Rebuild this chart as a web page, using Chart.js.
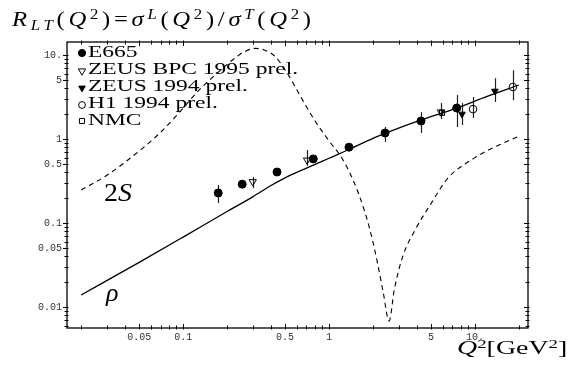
<!DOCTYPE html>
<html><head><meta charset="utf-8">
<script src="https://cdn.jsdelivr.net/npm/chart.js@4.4.1/dist/chart.umd.min.js"></script>
<style>
html,body{margin:0;padding:0;background:#fff;}
#wrap{position:relative;width:570px;height:369px;overflow:hidden;background:#fff;}
canvas{position:absolute;left:0;top:0;}
.t{position:absolute;white-space:nowrap;font-family:"Liberation Serif","Times New Roman",serif;color:#000;line-height:1;transform-origin:0 0;font-weight:normal;}
.t sub,.t sup{font-size:68%;line-height:0;position:relative;vertical-align:baseline;}
.t sup{top:-0.5em;} .t sub{top:0.28em;}
.leg{font-size:17px;}
</style></head>
<body><div id="wrap"><canvas id="c" width="570" height="369"></canvas>
<div class="t" id="title" style="left:12px;top:8px;font-size:22px"><i>R</i><sub><i>LT</i></sub>(<i>Q</i><sup>2</sup>)=<i>σ</i><sup><i>L</i></sup>(<i>Q</i><sup>2</sup>)/<i>σ</i><sup><i>T</i></sup>(<i>Q</i><sup>2</sup>)</div>
<div class="t leg" id="l0" style="left:88px;top:43px">E665</div>
<div class="t leg" id="l1" style="left:88px;top:60px">ZEUS BPC 1995 prel.</div>
<div class="t leg" id="l2" style="left:88px;top:77px">ZEUS 1994 prel.</div>
<div class="t leg" id="l3" style="left:88px;top:94px">H1 1994 prel.</div>
<div class="t leg" id="l4" style="left:88px;top:111px">NMC</div>
<div class="t" id="xl" style="left:457px;top:338px;font-size:19px"><i>Q</i><sup>2</sup>[GeV<sup>2</sup>]</div>
<div class="t" id="s2" style="left:104px;top:180px;font-size:25px">2<i>S</i></div>
<div class="t" id="rho" style="left:106px;top:280px;font-size:26px"><i>ρ</i></div>
</div>
<script>
// ---- data ----
const xTickVals = [0.05, 0.1, 0.5, 1, 5, 10];
const xTickLabels = ['0.05', '0.1', '0.5', '1', '5', '10.'];
const yTickVals = [0.01, 0.05, 0.1, 0.5, 1, 5, 10];
const yTickLabels = ['0.01', '0.05', '0.1', '0.5', '1', '5', '10.'];

const rhoQ2 = [0.02, 0.05, 0.1, 0.2, 0.3, 0.4, 0.5, 0.6, 0.78, 1.0, 1.37, 2.0, 3.0, 4.27, 7.5, 12, 20];
const rhoR  = [0.0139, 0.034, 0.068, 0.137, 0.205, 0.28, 0.345, 0.40, 0.49, 0.59, 0.75, 1.02, 1.35, 1.68, 2.34, 3.2, 4.4];

const s2Q2 = [0.02, 0.03, 0.05, 0.07, 0.09, 0.13, 0.17, 0.21, 0.26, 0.31, 0.36, 0.43, 0.52, 0.63, 0.8, 1.0, 1.25, 1.6, 1.9, 2.13, 2.35, 2.58, 2.8, 3.2, 3.88, 5, 6.5, 10, 14, 20];
const s2R  = [0.247, 0.37, 0.72, 1.2, 1.9, 3.9, 6.0, 8.3, 10.8, 12.0, 11.5, 9.5, 6.0, 3.34, 1.65, 0.95, 0.56, 0.22, 0.085, 0.036, 0.015, 0.0068, 0.016, 0.04, 0.082, 0.17, 0.34, 0.6, 0.82, 1.08];

const e665Q2 = [0.174, 0.254, 0.44, 0.78, 1.37, 2.42, 4.27, 7.5];
const e665R  = [0.228, 0.29, 0.405, 0.58, 0.80, 1.18, 1.64, 2.34];
const e665Lo = [0.173, 0.27, 0.385, 0.555, 0.74, 0.92, 1.18, 1.39];
const e665Hi = [0.284, 0.31, 0.425, 0.605, 0.87, 1.39, 2.09, 3.34];

const bpcQ2 = [0.30, 0.707, 5.85];
const bpcR  = [0.31, 0.56, 2.1];
const bpcLo = [0.26, 0.48, 1.73];
const bpcHi = [0.353, 0.74, 2.68];

const z94Q2 = [8.15, 13.7];
const z94R  = [1.98, 3.72];
const z94Lo = [1.47, 2.76];
const z94Hi = [2.68, 5.3];

const h1Q2 = [9.7, 18.2];
const h1R  = [2.27, 4.16];
const h1Lo = [1.78, 2.9];
const h1Hi = [3.16, 6.6];

const nmcQ2 = [5.95];
const nmcR  = [2.05];
const nmcLo = [1.93];
const nmcHi = [2.18];

const pts = (xs, ys) => xs.map((v, i) => ({x: v, y: ys[i]}));
const errs = [
  [e665Q2, e665Lo, e665Hi], [bpcQ2, bpcLo, bpcHi], [z94Q2, z94Lo, z94Hi],
  [h1Q2, h1Lo, h1Hi], [nmcQ2, nmcLo, nmcHi]
];

const errPlugin = {
  id: 'errbars',
  beforeDatasetsDraw(chart) {
    const {ctx, scales: {x, y}} = chart;
    ctx.save();
    ctx.strokeStyle = '#222';
    ctx.lineWidth = 1.2;
    errs.forEach(([xs, lo, hi]) => {
      xs.forEach((q, i) => {
        const px = Math.round(x.getPixelForValue(q)) + 0.5;
        ctx.beginPath();
        ctx.moveTo(px, y.getPixelForValue(lo[i]));
        ctx.lineTo(px, y.getPixelForValue(hi[i]));
        ctx.stroke();
      });
    });
    ctx.restore();
  }
};

function tickSet(min, max) {
  const out = [];
  for (let d = -3; d <= 2; d++) for (let m = 1; m <= 9; m++) {
    const v = m * Math.pow(10, d);
    if (v >= min && v <= max) out.push(+v.toPrecision(3));
  }
  return out;
}

const framePlugin = {
  id: 'frame',
  afterDraw(chart) {
    const {ctx, chartArea: a, scales: {x, y}} = chart;
    ctx.save();
    ctx.strokeStyle = '#000';
    ctx.lineWidth = 1.3;
    ctx.strokeRect(a.left, a.top, a.right - a.left, a.bottom - a.top);
    ctx.lineWidth = 1;
    const isMaj = (v, list) => list.some(t => Math.abs(t - v) / t < 1e-6);
    tickSet(x.min, x.max).forEach(v => {
      const px = Math.round(x.getPixelForValue(v)) + 0.5;
      const L = isMaj(v, xTickVals) ? 4 : 2.5;
      ctx.beginPath();
      ctx.moveTo(px, a.bottom + 1.5); ctx.lineTo(px, a.bottom - L);
      ctx.moveTo(px, a.top - 1.5); ctx.lineTo(px, a.top + L);
      ctx.stroke();
    });
    tickSet(y.min, y.max).forEach(v => {
      const py = Math.round(y.getPixelForValue(v)) + 0.5;
      const L = isMaj(v, yTickVals) ? 4 : 2.5;
      ctx.beginPath();
      ctx.moveTo(a.left - L, py); ctx.lineTo(a.left + 1.5, py);
      ctx.moveTo(a.right + 1.5, py); ctx.lineTo(a.right - L, py);
      ctx.stroke();
    });
    // legend symbols
    const H = Chart.helpers;
    const sym = [
      {pointStyle: 'circle', radius: 3.6, rotation: 0, fill: true, y: 53},
      {pointStyle: 'triangle', radius: 4.2, rotation: 180, fill: false, y: 71},
      {pointStyle: 'triangle', radius: 3.8, rotation: 180, fill: true, y: 88},
      {pointStyle: 'circle', radius: 3.4, rotation: 0, fill: false, y: 105},
      {pointStyle: 'rect', radius: 3.6, rotation: 0, fill: false, y: 121}
    ];
    sym.forEach(s => {
      ctx.fillStyle = s.fill ? '#000' : 'rgba(0,0,0,0)';
      ctx.strokeStyle = '#000';
      H.drawPoint(ctx, {pointStyle: s.pointStyle, radius: s.radius, rotation: s.rotation, borderWidth: 1}, 82, s.y);
    });
    ctx.restore();
  }
};

const open = 'rgba(0,0,0,0)';
new Chart(document.getElementById('c'), {
  type: 'scatter',
  data: {
    datasets: [
      {label: 'rho', data: pts(rhoQ2, rhoR), showLine: true, borderColor: '#000', borderWidth: 1.3,
       pointRadius: 0, cubicInterpolationMode: 'monotone', fill: false},
      {label: '2S', data: pts(s2Q2, s2R), showLine: true, borderColor: '#000', borderWidth: 1.1,
       borderDash: [5, 4], pointRadius: 0, cubicInterpolationMode: 'monotone', fill: false},
      {label: 'E665', data: pts(e665Q2, e665R), pointStyle: 'circle', pointRadius: 4,
       backgroundColor: '#000', borderColor: '#000', borderWidth: 1},
      {label: 'ZEUS BPC 1995 prel.', data: pts(bpcQ2, bpcR), pointStyle: 'triangle', pointRotation: 180,
       pointRadius: 4.2, backgroundColor: open, borderColor: '#000', borderWidth: 1},
      {label: 'ZEUS 1994 prel.', data: pts(z94Q2, z94R), pointStyle: 'triangle', pointRotation: 180,
       pointRadius: 3.8, backgroundColor: '#000', borderColor: '#000', borderWidth: 1},
      {label: 'H1 1994 prel.', data: pts(h1Q2, h1R), pointStyle: 'circle', pointRadius: 3.8,
       backgroundColor: open, borderColor: '#000', borderWidth: 1},
      {label: 'NMC', data: pts(nmcQ2, nmcR), pointStyle: 'rect', pointRadius: 3.6,
       backgroundColor: open, borderColor: '#000', borderWidth: 1}
    ]
  },
  options: {
    responsive: false, animation: false, devicePixelRatio: 1,
    layout: {padding: {top: 42, right: 42, left: 0, bottom: 0}},
    plugins: {legend: {display: false}, tooltip: {enabled: false}},
    scales: {
      x: {
        type: 'logarithmic', min: 0.016, max: 23.1,
        grid: {display: false, drawTicks: false}, border: {display: false},
        afterFit: s => { s.height = 41; },
        afterBuildTicks: s => { s.ticks = xTickVals.map(v => ({value: v})); },
        ticks: {autoSkip: false, maxRotation: 0, padding: 3, color: '#333',
          font: {family: 'Liberation Mono', size: 10},
          callback: (v, i) => xTickLabels[i]}
      },
      y: {
        type: 'logarithmic', min: 0.00562, max: 14.3,
        grid: {display: false, drawTicks: false}, border: {display: false},
        afterFit: s => { s.width = 67; },
        afterBuildTicks: s => { s.ticks = yTickVals.map(v => ({value: v})); },
        ticks: {autoSkip: false, padding: 5, color: '#333',
          font: {family: 'Liberation Mono', size: 10},
          callback: (v, i) => yTickLabels[i]}
      }
    }
  },
  plugins: [errPlugin, framePlugin]
});

function fitText() {
  const t = document.getElementById('title');
  t.style.letterSpacing = '0px';
  t.style.transform = 'none';
  const w0 = t.offsetWidth;
  const n = t.textContent.length;
  const s = Math.min(1.12, 303 / w0);
  t.style.letterSpacing = Math.max(0, (303 / s - w0) / n) + 'px';
  t.style.transform = 'scaleX(' + s + ')';
  const xl = document.getElementById('xl');
  xl.style.transform = 'none';
  xl.style.transform = 'scaleX(' + (110 / xl.offsetWidth) + ')';
  const ref = document.getElementById('l1');
  ref.style.transform = 'none';
  const f = 210 / ref.offsetWidth;
  for (let i = 0; i < 5; i++) document.getElementById('l' + i).style.transform = 'scaleX(' + f + ')';
  const s2 = document.getElementById('s2');
  s2.style.transform = 'none';
  s2.style.transform = 'scaleX(' + (28 / s2.offsetWidth) + ')';
}
fitText();
if (document.fonts && document.fonts.ready) document.fonts.ready.then(fitText);
</script>
</body></html>
